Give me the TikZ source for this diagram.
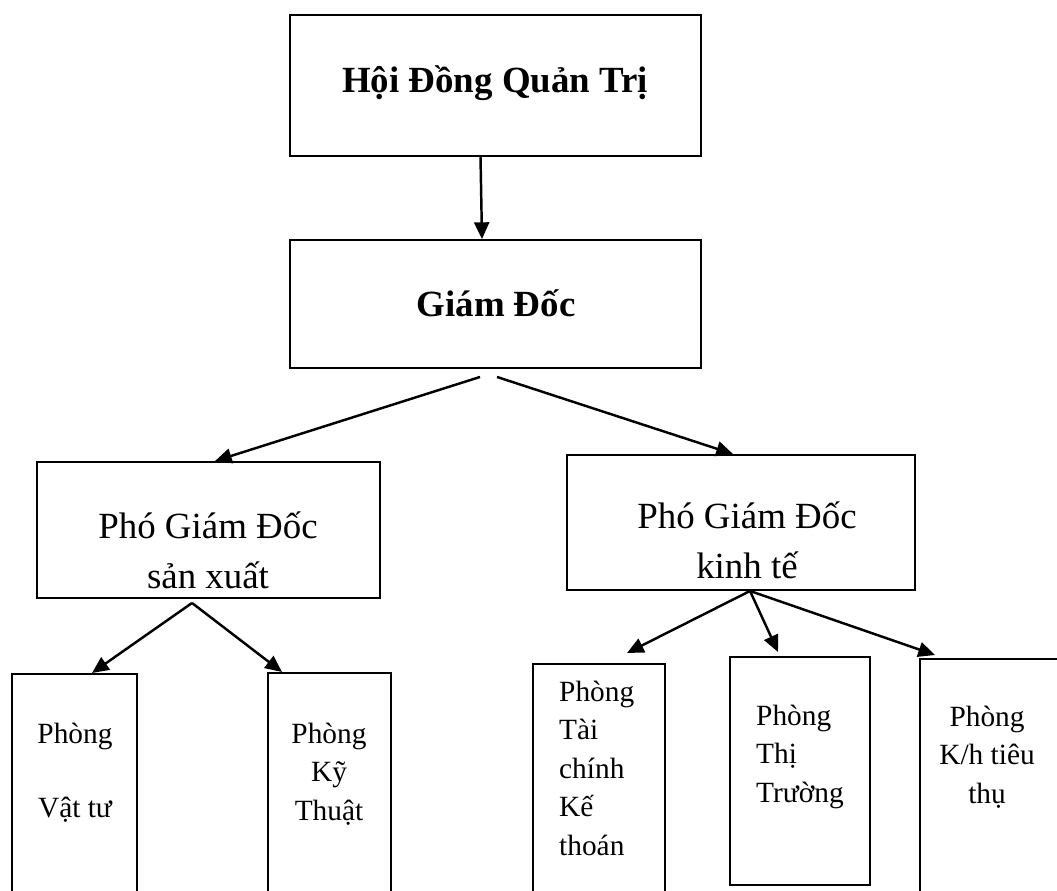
\documentclass[tikz,border=0pt]{standalone}
\usepackage{fontspec}
\setmainfont{Liberation Serif}
\usetikzlibrary{arrows.meta}

\tikzset{
  hop/.style={draw, line width=1.1pt, inner sep=0pt},
  chu/.style={font=\fontsize{21}{28}\selectfont, align=center, anchor=base},
  nho/.style={font=\fontsize{16.7}{21.9}\selectfont, anchor=base},
  mui/.style={-{Triangle[length=9.5pt,width=8.5pt]}, line width=1.4pt},
}

\begin{document}
\begin{tikzpicture}
            \clip (0,0) rectangle (21.14,17.8);
            % cap tren
            \node[hop, minimum width=8.22cm, minimum height=2.82cm] (hd) at (9.91,16.09) {};
            \node[chu, font=\fontsize{21}{28}\selectfont\bfseries] (hdt) at (9.9,15.94) {Hội Đồng Quản Trị};
            \node[hop, minimum width=8.22cm, minimum height=2.56cm] (gd) at (9.91,11.72) {};
            \node[chu, font=\fontsize{21}{28}\selectfont\bfseries] (gdt) at (9.92,11.46) {Giám Đốc};
            % pho giam doc (base = dong cuoi)
            \node[hop, minimum width=6.86cm, minimum height=2.72cm] (sx) at (4.17,7.2) {};
            \node[chu] (sxt) at (4.16,6.04) {Phó Giám Đốc\\sản xuất};
            \node[hop, minimum width=6.96cm, minimum height=2.7cm] (kt) at (14.82,7.35) {};
            \node[chu] (ktt) at (14.94,6.24) {Phó Giám Đốc\\kinh tế};
            % cac phong
            \node[hop, anchor=north, minimum width=2.5cm, minimum height=5cm] (vt) at (1.49,4.34) {};
            \node[nho, align=center] (vtt) at (1.5,1.46) {Phòng\\[0.71cm]Vật tư};
            \node[hop, anchor=north, minimum width=2.46cm, minimum height=5cm] (kth) at (6.59,4.36) {};
            \node[nho, align=center] (ktht) at (6.58,1.4) {Phòng\\Kỹ\\Thuật};
            \node[hop, anchor=north, minimum width=2.64cm, minimum height=5cm] (tc) at (11.98,4.54) {};
            \node[nho, align=left, anchor=base west] (tct) at (11.06,0.7) {Phòng\\Tài\\chính\\Kế\\thoán};
            \node[hop, anchor=north, minimum width=2.8cm, minimum height=4.56cm] (tt) at (16.0,4.68) {};
            \node[nho, align=left, anchor=base west] (ttt) at (15.0,1.76) {Phòng\\Thị\\Trường};
            \node[hop, anchor=north, minimum width=3.6cm, minimum height=5cm] (kh) at (20.2,4.64) {};
            \node[nho, align=center] (kht) at (19.74,1.74) {Phòng\\K/h tiêu\\thụ};
            % mui ten
            \draw[mui] ([xshift=-0.3cm]hd.south) -- ([xshift=-0.27cm]gd.north);
            \draw[mui] ([xshift=-0.31cm,yshift=-0.16cm]gd.south) -- ([xshift=0.13cm]sx.north);
            \draw[mui] ([xshift=0.03cm,yshift=-0.16cm]gd.south) -- ([xshift=-0.16cm]kt.north);
            \coordinate (sxd) at ([xshift=-0.33cm,yshift=-0.08cm]sx.south);
            \draw[mui] (sxd) -- ([xshift=0.35cm]vt.north);
            \draw[mui] (sxd) -- ([xshift=-0.95cm]kth.north);
            \coordinate (ktd) at ([xshift=0.18cm]kt.south);
            \draw[mui] (ktd) -- ([xshift=0.56cm,yshift=0.2cm]tc.north);
            \draw[mui] (ktd) -- ([xshift=-0.44cm,yshift=0.08cm]tt.north);
            \draw[mui] (ktd) -- ([xshift=-1.5cm,yshift=0.06cm]kh.north);
        \end{tikzpicture}
\end{document}
